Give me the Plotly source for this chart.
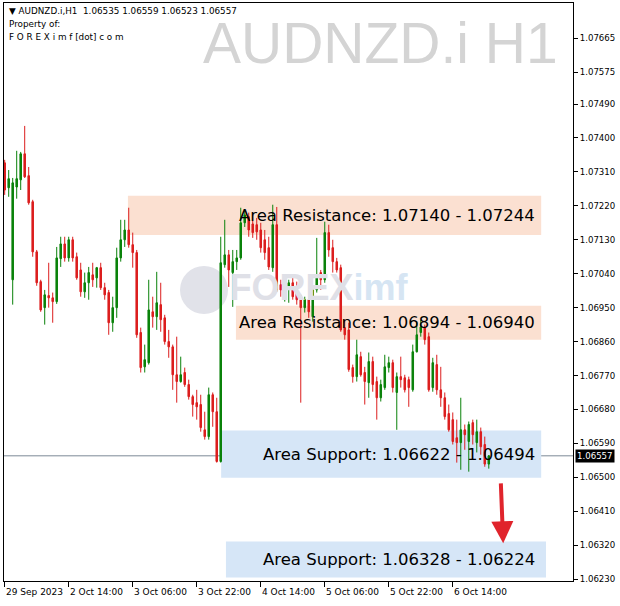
import plotly.graph_objects as go

# ---------------- data (AUDNZD.i H1) ----------------
bar_index = list(range(122))
opens = [1.07334, 1.07268, 1.07024, 1.07270, 1.07289, 1.07358, 1.07300, 1.07231, 1.07098, 1.07019,
         1.06950, 1.06982, 1.06976, 1.06966, 1.07080, 1.07119, 1.07082, 1.07130, 1.07085, 1.07050,
         1.06992, 1.07016, 1.07037, 1.07029, 1.07056, 1.07003, 1.06990, 1.06910, 1.06950, 1.07082,
         1.07130, 1.07156, 1.07117, 1.07096, 1.06884, 1.06793, 1.06804, 1.06939, 1.06926, 1.06958,
         1.06923, 1.06860, 1.06846, 1.06772, 1.06754, 1.06778, 1.06746, 1.06714, 1.06698, 1.06693,
         1.06626, 1.06608, 1.06719, 1.06674, 1.06542, 1.07064, 1.07090, 1.07043, 1.07072, 1.07082,
         1.07175, 1.07191, 1.07172, 1.07170, 1.07156, 1.07130, 1.07109, 1.07056, 1.07170, 1.07011,
         1.06976, 1.07003, 1.07016, 1.06997, 1.06979, 1.06950, 1.06971, 1.06926, 1.06997, 1.07043,
         1.07024, 1.07149, 1.07109, 1.07072, 1.07056, 1.06897, 1.06891, 1.06791, 1.06767, 1.06820,
         1.06778, 1.06751, 1.06807, 1.06754, 1.06711, 1.06738, 1.06791, 1.06804, 1.06725, 1.06767,
         1.06764, 1.06759, 1.06732, 1.06833, 1.06884, 1.06897, 1.06873, 1.06738, 1.06799, 1.06732,
         1.06711, 1.06669, 1.06653, 1.06605, 1.06592, 1.06626, 1.06595, 1.06645, 1.06592, 1.06621,
         1.06587, 1.06535]
highs = [1.07342, 1.07315, 1.07294, 1.07366, 1.07363, 1.07432, 1.07323, 1.07236, 1.07103, 1.07024,
         1.06997, 1.07069, 1.06990, 1.07111, 1.07138, 1.07138, 1.07138, 1.07138, 1.07096, 1.07069,
         1.07043, 1.07058, 1.07069, 1.07058, 1.07069, 1.07016, 1.06997, 1.06979, 1.07109, 1.07183,
         1.07183, 1.07215, 1.07149, 1.07103, 1.06897, 1.06852, 1.07024, 1.06979, 1.07045, 1.07016,
         1.06931, 1.06891, 1.06852, 1.06873, 1.06820, 1.06791, 1.06759, 1.06719, 1.06732, 1.06719,
         1.06674, 1.06738, 1.06725, 1.06711, 1.07138, 1.07183, 1.07103, 1.07103, 1.07103, 1.07215,
         1.07209, 1.07202, 1.07196, 1.07188, 1.07175, 1.07156, 1.07138, 1.07223, 1.07217, 1.07024,
         1.07016, 1.07024, 1.07032, 1.07019, 1.06984, 1.06979, 1.06979, 1.06997, 1.07135, 1.07050,
         1.07178, 1.07170, 1.07130, 1.07082, 1.07064, 1.06918, 1.06910, 1.06799, 1.06865, 1.06833,
         1.06793, 1.06831, 1.06820, 1.06767, 1.06759, 1.06825, 1.06820, 1.06812, 1.06778, 1.06820,
         1.06772, 1.06767, 1.06852, 1.06913, 1.06918, 1.06905, 1.06884, 1.06817, 1.06825, 1.06793,
         1.06725, 1.06693, 1.06672, 1.06653, 1.06711, 1.06640, 1.06648, 1.06653, 1.06653, 1.06632,
         1.06608, 1.06559]
lows = [1.07249, 1.07244, 1.06958, 1.07239, 1.07262, 1.07294, 1.07223, 1.07085, 1.07008, 1.06939,
        1.06905, 1.06950, 1.06910, 1.06960, 1.07058, 1.07072, 1.07072, 1.07072, 1.07024, 1.06979,
        1.06976, 1.06971, 1.07005, 1.07003, 1.06997, 1.06971, 1.06878, 1.06886, 1.06923, 1.07072,
        1.07111, 1.07109, 1.07056, 1.06870, 1.06778, 1.06778, 1.06799, 1.06897, 1.06891, 1.06886,
        1.06852, 1.06817, 1.06732, 1.06698, 1.06751, 1.06740, 1.06706, 1.06661, 1.06653, 1.06621,
        1.06600, 1.06600, 1.06634, 1.06539, 1.06539, 1.07056, 1.07005, 1.06952, 1.07050, 1.07077,
        1.07164, 1.07138, 1.07135, 1.07130, 1.07096, 1.07077, 1.07050, 1.07045, 1.06992, 1.06979,
        1.06966, 1.06963, 1.06971, 1.06958, 1.06698, 1.06937, 1.06923, 1.06913, 1.06990, 1.06997,
        1.07016, 1.07085, 1.07043, 1.07043, 1.06886, 1.06865, 1.06780, 1.06751, 1.06754, 1.06767,
        1.06693, 1.06711, 1.06727, 1.06653, 1.06701, 1.06732, 1.06778, 1.06725, 1.06626, 1.06738,
        1.06725, 1.06687, 1.06727, 1.06831, 1.06873, 1.06852, 1.06727, 1.06727, 1.06719, 1.06687,
        1.06653, 1.06621, 1.06587, 1.06539, 1.06520, 1.06573, 1.06515, 1.06587, 1.06566, 1.06560,
        1.06528, 1.06523]
closes = [1.07262, 1.07292, 1.07281, 1.07292, 1.07358, 1.07297, 1.07228, 1.07098, 1.07016, 1.06944,
          1.06984, 1.06976, 1.06966, 1.07082, 1.07119, 1.07082, 1.07130, 1.07082, 1.07029, 1.06992,
          1.07016, 1.07043, 1.07024, 1.07056, 1.07003, 1.06984, 1.06910, 1.06950, 1.07082, 1.07130,
          1.07156, 1.07117, 1.07096, 1.06878, 1.06791, 1.06812, 1.06944, 1.06926, 1.06963, 1.06918,
          1.06860, 1.06846, 1.06772, 1.06754, 1.06772, 1.06746, 1.06714, 1.06693, 1.06687, 1.06632,
          1.06608, 1.06719, 1.06674, 1.06542, 1.07069, 1.07090, 1.07050, 1.07072, 1.07082, 1.07175,
          1.07196, 1.07156, 1.07149, 1.07151, 1.07109, 1.07096, 1.07058, 1.07170, 1.06997, 1.06997,
          1.07005, 1.07016, 1.06979, 1.06971, 1.06950, 1.06971, 1.06939, 1.06997, 1.07037, 1.07024,
          1.07149, 1.07103, 1.07072, 1.07050, 1.06891, 1.06878, 1.06786, 1.06767, 1.06825, 1.06772,
          1.06754, 1.06807, 1.06746, 1.06711, 1.06746, 1.06793, 1.06804, 1.06738, 1.06767, 1.06759,
          1.06732, 1.06738, 1.06833, 1.06878, 1.06899, 1.06865, 1.06732, 1.06804, 1.06732, 1.06711,
          1.06661, 1.06626, 1.06595, 1.06592, 1.06626, 1.06613, 1.06640, 1.06613, 1.06621, 1.06581,
          1.06535, 1.06557]

x_tick_pos = [0, 16, 32, 48, 64, 80, 96, 112]
x_tick_labels = ["29 Sep 2023", "2 Oct 14:00", "3 Oct 06:00", "3 Oct 22:00",
                 "4 Oct 14:00", "5 Oct 06:00", "5 Oct 22:00", "6 Oct 14:00"]
y_tick_vals = [1.07665, 1.07575, 1.07490, 1.07400, 1.07310, 1.07220, 1.07130, 1.07040, 1.06950,
               1.06860, 1.06770, 1.06680, 1.06590, 1.06500, 1.06410, 1.06320, 1.06230]

zone_labels = ["Area Resistance: 1.07140 - 1.07244", "Area Resistance: 1.06894 - 1.06940",
               "Area Support: 1.06622 - 1.06494", "Area Support: 1.06328 - 1.06224"]
zone_low = [1.07143, 1.06865, 1.06499, 1.06234]
zone_high = [1.07247, 1.06955, 1.06624, 1.06330]
zone_kind = ["res", "res", "sup", "sup"]
zone_start = [30.8, 57.8, 54.1, 55.3]
zone_end = [134.1, 134.1, 134.1, 135.3]

last_price = 1.06557
header_ohlc = "1.06535 1.06559 1.06523 1.06557"

# ---------------- figure ----------------
W, H = 620, 606
ML, MR, MT, MB = 4, 47, 3, 25
PW, PH = W - ML - MR, H - MT - MB


def px(xp):
    return (xp - ML) / PW


def py(yp):
    return (H - MB - yp) / PH


GREEN = "#0a820a"
RED = "#dc1e1e"

fig = go.Figure()

# watermark logo text (behind candles)
fig.add_trace(go.Scatter(
    x=[56.2], y=[1.06995], mode="text",
    text=["<b>FOREX</b><b><span style='color:#d6e5f3'>imf</span></b>"],
    textposition="middle right",
    textfont=dict(family="Liberation Sans", size=36, color="#dfe0e7"),
    hoverinfo="skip", showlegend=False,
))

fig.add_trace(go.Candlestick(
    x=bar_index, open=opens, high=highs, low=lows, close=closes,
    increasing=dict(line=dict(color=GREEN, width=1), fillcolor=GREEN),
    decreasing=dict(line=dict(color=RED, width=1), fillcolor=RED),
    whiskerwidth=0, showlegend=False, hoverinfo="skip",
))

shapes = []
# logo circle
shapes.append(dict(type="circle", xref="paper", yref="paper", layer="below",
                   x0=px(180), x1=px(228), y0=py(314), y1=py(266),
                   fillcolor="#e1e2e9", line=dict(width=0)))
for lo, hi, kind, x0, x1 in zip(zone_low, zone_high, zone_kind, zone_start, zone_end):
    shapes.append(dict(type="rect", xref="x", yref="y", layer="below",
                       x0=x0, x1=x1, y0=lo, y1=hi,
                       fillcolor="#fbe0d1" if kind == "res" else "#d6e6f7",
                       line=dict(width=0)))
# current bid line
shapes.append(dict(type="line", xref="paper", yref="y", layer="below",
                   x0=0, x1=1, y0=last_price, y1=last_price,
                   line=dict(color="#7d8a96", width=1)))

annotations = []
for lab, lo, hi in zip(zone_labels, zone_low, zone_high):
    annotations.append(dict(x=133.1, y=(lo + hi) / 2, xref="x", yref="y",
                            text=lab, showarrow=False, xanchor="right", yanchor="middle",
                            font=dict(family="DejaVu Sans", size=16.5, color="#000000")))

# x tick labels, left aligned at the tick like the terminal
for pos, lab in zip(x_tick_pos, x_tick_labels):
    annotations.append(dict(x=pos, y=py(592), xref="x", yref="paper", text=lab,
                            showarrow=False, xanchor="left", yanchor="middle", xshift=-1,
                            font=dict(family="DejaVu Sans", size=9, color="#000000")))

# big symbol watermark
annotations.append(dict(x=px(560), y=py(43), xref="paper", yref="paper",
                        text="AUDNZD.i H1", showarrow=False, xanchor="right", yanchor="middle",
                        font=dict(family="Liberation Sans", size=57, color="#d4d4d4")))
# header lines
annotations.append(dict(x=px(7), y=py(11), xref="paper", yref="paper",
                        text="\u25bc AUDNZD.i,H1  " + header_ohlc, showarrow=False,
                        xanchor="left", yanchor="middle",
                        font=dict(family="DejaVu Sans", size=8.8, color="#000000")))
annotations.append(dict(x=px(7), y=py(24), xref="paper", yref="paper",
                        text="Property of:", showarrow=False,
                        xanchor="left", yanchor="middle",
                        font=dict(family="DejaVu Sans", size=8.8, color="#000000")))
annotations.append(dict(x=px(7), y=py(37), xref="paper", yref="paper",
                        text="F O R E X i m f [dot] c o m", showarrow=False,
                        xanchor="left", yanchor="middle",
                        font=dict(family="DejaVu Sans", size=8.8, color="#000000")))
# current price tag
annotations.append(dict(x=1, y=last_price, xref="paper", yref="y", text="1.06557",
                        showarrow=False, xanchor="left", yanchor="middle", xshift=2,
                        bgcolor="#000000", borderpad=1,
                        font=dict(family="DejaVu Sans", size=8.6, color="#ffffff")))
# red arrow
annotations.append(dict(x=124.6, y=1.06325, xref="x", yref="y",
                        ax=124.0, ay=1.06488, axref="x", ayref="y",
                        text="", showarrow=True, arrowhead=2, arrowsize=1.1,
                        arrowwidth=4, arrowcolor="#e0242c"))

fig.update_layout(
    width=W, height=H,
    margin=dict(l=ML, r=MR, t=MT, b=MB),
    paper_bgcolor="#ffffff", plot_bgcolor="#ffffff",
    showlegend=False, hovermode=False, boxgap=0.45,
    shapes=shapes, annotations=annotations,
    xaxis=dict(range=[-0.175, 142.05], type="linear", rangeslider=dict(visible=False),
               showgrid=False, zeroline=False, showline=True, linecolor="#000000",
               linewidth=1, mirror=True, tickvals=x_tick_pos, ticks="outside",
               ticklen=5, tickcolor="#000000", showticklabels=False),
    yaxis=dict(range=[1.06225, 1.07758], side="right", showgrid=False, zeroline=False,
               showline=True, linecolor="#000000", linewidth=1, mirror=True,
               tickvals=y_tick_vals, ticktext=[f"{v:.5f}" for v in y_tick_vals],
               ticks="outside", ticklen=4, tickcolor="#000000",
               tickfont=dict(family="DejaVu Sans", size=8.6, color="#000000")),
)

fig.write_html("out.html", config={"displayModeBar": False},
               post_script="document.body.style.margin='0px';")
